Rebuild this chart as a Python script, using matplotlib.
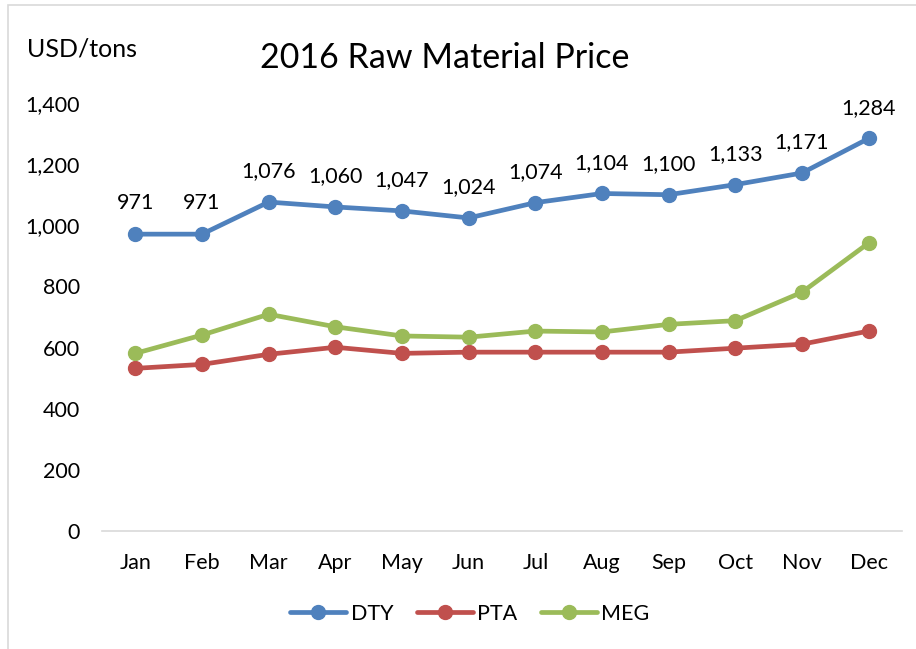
import numpy as np
import matplotlib
matplotlib.use("Agg")
import matplotlib.pyplot as plt
from matplotlib.patches import Rectangle
from matplotlib.ticker import FuncFormatter

months = ["Jan", "Feb", "Mar", "Apr", "May", "Jun", "Jul", "Aug", "Sep", "Oct", "Nov", "Dec"]
dty = [971, 971, 1076, 1060, 1047, 1024, 1074, 1104, 1100, 1133, 1171, 1284]
pta = [532, 545, 578, 601, 581, 585, 585, 585, 585, 598, 611, 654]
meg = [581, 641, 709, 668, 638, 634, 654, 651, 676, 688, 781, 942]
yticks = [0, 200, 400, 600, 800, 1000, 1200, 1400]

plt.rcParams['font.family'] = ['Lato', 'DejaVu Sans']

fig = plt.figure(figsize=(9.16, 6.49), dpi=100)
ax = fig.add_axes([102 / 916, 1 - 531 / 649, 800 / 916, 428 / 649])

x = np.arange(len(months))
series = [("DTY", dty, "#4F81BD"), ("PTA", pta, "#C0504D"), ("MEG", meg, "#9BBB59")]
for name, vals, col in series:
    ax.plot(x, vals, color=col, lw=3.4, marker="o", ms=10, label=name,
            solid_capstyle="round")

for xi, v in zip(x, dty):
    ax.annotate(f"{v:,}", (xi, v), xytext=(0, 15), textcoords="offset points",
                ha="center", va="bottom", fontsize=15.5)

ax.set_xlim(-0.5, 11.5)
ax.set_ylim(0, 1400)
ax.set_xticks(x)
ax.set_xticklabels(months)
ax.set_yticks(yticks)
ax.yaxis.set_major_formatter(FuncFormatter(lambda v, p: f"{int(v):,}"))
ax.tick_params(axis="both", length=0, labelsize=15.5)
ax.tick_params(axis="y", pad=16)
ax.tick_params(axis="x", pad=16)
for side in ["left", "right", "top"]:
    ax.spines[side].set_visible(False)
ax.spines["bottom"].set_color("#D9D9D9")
ax.spines["bottom"].set_linewidth(1.2)

fig.text(445 / 916, 1 - 58 / 649, "2016 Raw Material Price", ha="center", va="center", fontsize=24.5)
fig.text(27 / 916, 1 - 49 / 649, "USD/tons", ha="left", va="center", fontsize=18)

fig.legend(loc="center", bbox_to_anchor=(470 / 916, 1 - 614 / 649), ncol=3, frameon=False,
           fontsize=15.5, handlelength=2.6, columnspacing=1.1, handletextpad=0.2)

fig.patches.append(Rectangle((8 / 916, -0.05), 1.1, 1 - 5 / 649 + 0.05, transform=fig.transFigure,
                             fill=False, edgecolor="#D9D9D9", lw=1.2))

fig.savefig("out.png", dpi=100)
